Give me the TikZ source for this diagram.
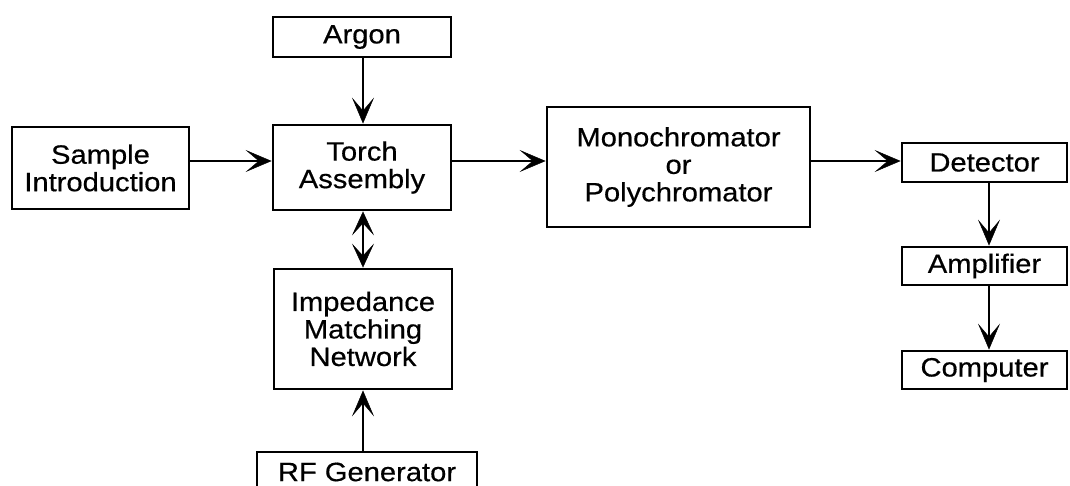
\documentclass[tikz,border=0pt]{standalone}
\usepackage{fontspec}
\setmainfont{Liberation Sans}[FakeStretch=1.1,FakeBold=0.5]
\usetikzlibrary{arrows.meta}
\begin{document}
\begin{tikzpicture}[x=1pt,y=-1pt,
  box/.style={draw, line width=2.8pt, inner sep=0pt, align=center,
    font=\fontsize{26.5}{27.5}\selectfont},
  arr/.style={line width=2.8pt, -{Stealth[length=26pt,width=22pt,inset=13pt,line width=0.5pt]}},
  darr/.style={line width=2.8pt, {Stealth[length=24pt,width=22pt,inset=12pt,line width=0.5pt]}-{Stealth[length=24pt,width=22pt,inset=12pt,line width=0.5pt]}}]
\useasboundingbox (0,0) rectangle (1070,486);
\clip (0,0) rectangle (1070,486);
\node[box, minimum width=178pt, minimum height=40pt] (argon) at (362,37) {Argon};
\node[box, minimum width=177pt, minimum height=82pt] (sample) at (100.5,168) {Sample\\Introduction};
\node[box, minimum width=178pt, minimum height=85pt] (torch) at (362,167.5) {Torch\\Assembly};
\node[box, minimum width=178pt, minimum height=120pt] (imp) at (363,329) {Impedance\\Matching\\Network};
\node[box, minimum width=220pt, minimum height=40pt] (rf) at (367,472) {RF Generator};
\node[box, minimum width=263pt, minimum height=120pt] (mono) at (678.5,167) {Monochromator\\or\\Polychromator};
\node[box, minimum width=165pt, minimum height=39pt] (det) at (984.5,162.5) {Detector};
\node[box, minimum width=165pt, minimum height=38pt] (amp) at (984.5,266) {Amplifier};
\node[box, minimum width=165pt, minimum height=38pt] (comp) at (984.5,370) {Computer};
\coordinate (hy) at (0,161);
\coordinate (vx1) at (363,0);
\coordinate (vx2) at (989,0);
\draw[arr] (sample.east |- hy) -- (torch.west |- hy);
\draw[arr] (torch.east |- hy) -- (mono.west |- hy);
\draw[arr] (mono.east |- hy) -- (det.west |- hy);
\draw[arr] (argon.south -| vx1) -- (torch.north -| vx1);
\draw[darr] (torch.south -| vx1) -- (imp.north -| vx1);
\draw[arr] (rf.north -| vx1) -- (imp.south -| vx1);
\draw[arr] (det.south -| vx2) -- (amp.north -| vx2);
\draw[arr] (amp.south -| vx2) -- (comp.north -| vx2);
\end{tikzpicture}
\end{document}
